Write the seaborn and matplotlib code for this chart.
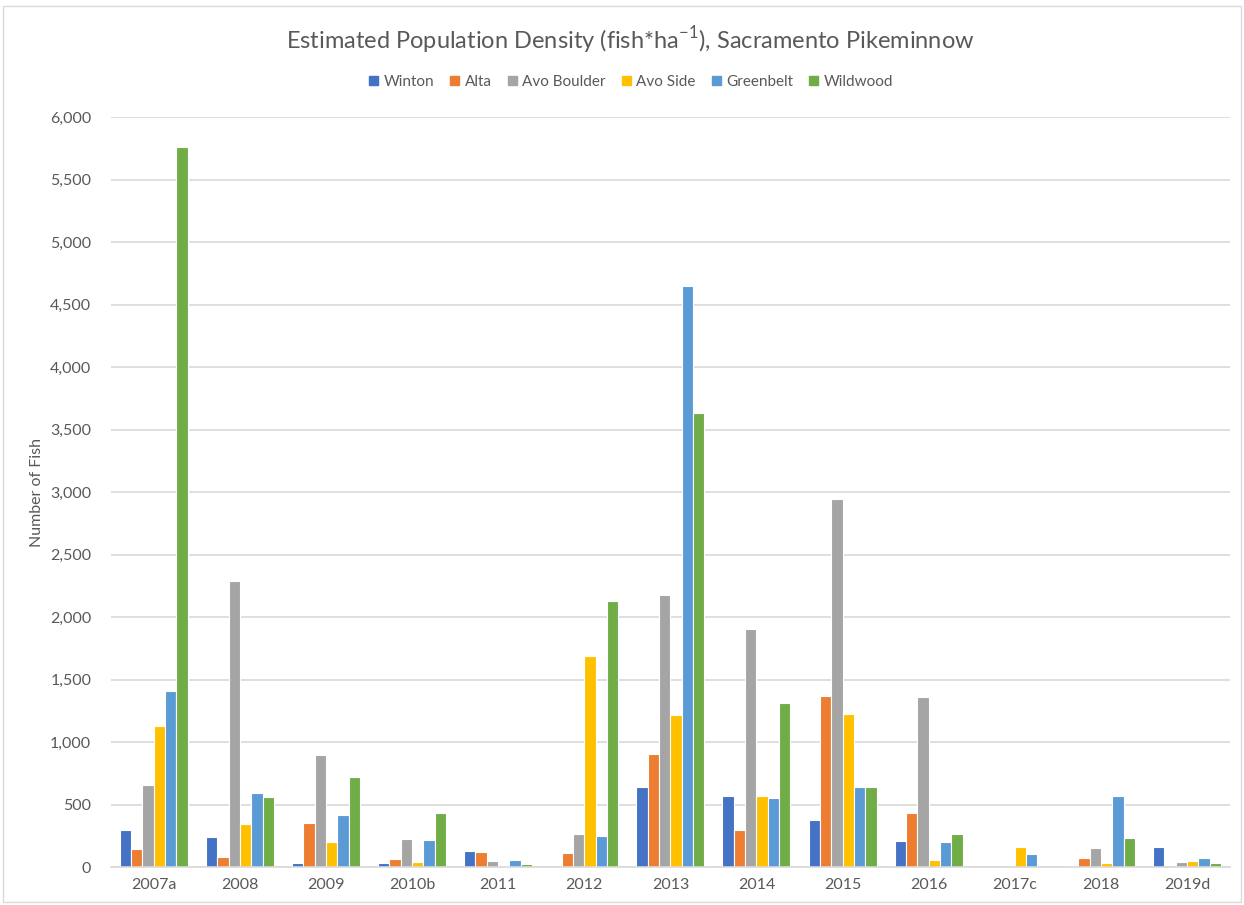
import numpy as np
import pandas as pd
import matplotlib
matplotlib.use("Agg")
import matplotlib.pyplot as plt
import seaborn as sns
from matplotlib.ticker import FuncFormatter, MultipleLocator
from matplotlib.patches import Rectangle

years = ["2007a", "2008", "2009", "2010b", "2011", "2012", "2013",
         "2014", "2015", "2016", "2017c", "2018", "2019d"]
sites = ["Winton", "Alta", "Avo Boulder", "Avo Side", "Greenbelt", "Wildwood"]

winton      = [300, 240, 32, 32, 131, 0, 640, 571, 373, 205, 0, 11, 157]
alta        = [143, 80, 355, 67, 123, 109, 904, 299, 1366, 429, 0, 75, 0]
avo_boulder = [655, 2286, 899, 227, 51, 261, 2174, 1902, 2941, 1360, 0, 149, 37]
avo_side    = [1128, 347, 198, 37, 11, 1688, 1213, 571, 1227, 59, 163, 29, 45]
greenbelt   = [1411, 590, 419, 213, 59, 248, 4645, 550, 640, 198, 101, 571, 75]
wildwood    = [5757, 558, 718, 429, 24, 2125, 3630, 1310, 640, 261, 0, 235, 29]

colors = ["#4472C4", "#ED7D31", "#A5A5A5", "#FFC000", "#5B9BD5", "#70AD47"]

series = [winton, alta, avo_boulder, avo_side, greenbelt, wildwood]
rows = []
for site, vals in zip(sites, series):
    for y, v in zip(years, vals):
        rows.append({"Year": y, "Site": site, "Fish": v})
df = pd.DataFrame(rows)

sns.set_theme(style="white")
plt.rcParams['font.family'] = ['Lato', 'DejaVu Sans']
plt.rcParams['mathtext.fontset'] = 'custom'
plt.rcParams['mathtext.rm'] = 'Lato'

fig = plt.figure(figsize=(12.44, 9.05), dpi=100)
ax = fig.add_axes([110.7 / 1244, 1 - 867 / 905, (1230 - 110.7) / 1244, (867 - 117) / 905])

sns.barplot(data=df, x="Year", y="Fish", hue="Site", order=years, hue_order=sites,
            palette=colors, width=0.79, saturation=1, edgecolor="white", linewidth=0.8,
            errorbar=None, ax=ax, legend=True)

ax.set_ylim(0, 6000)
ax.set_xlim(-0.5, len(years) - 0.5)
ax.yaxis.set_major_locator(MultipleLocator(500))
ax.yaxis.set_major_formatter(FuncFormatter(lambda v, p: f"{int(v):,}"))
ax.grid(axis="y", color="#D9D9D9", linewidth=1.2)
ax.set_axisbelow(True)
for s in ["top", "right", "left"]:
    ax.spines[s].set_visible(False)
ax.spines["bottom"].set_color("#D9D9D9")
ax.spines["bottom"].set_linewidth(1.2)
ax.tick_params(axis="both", length=0, labelsize=11.5, colors="#595959", pad=8)
ax.tick_params(axis="y", pad=14)
ax.set_xlabel("")
ax.set_ylabel("Number of Fish", fontsize=11.5, color="#595959", labelpad=4)

ax.get_legend().remove()
handles = [Rectangle((0, 0), 1, 1, color=c) for c in colors]
fig.legend(handles, sites, loc="center", bbox_to_anchor=(631 / 1244, 1 - 82 / 905), ncol=6,
           frameon=False, fontsize=11, handlelength=0.6, handleheight=0.6,
           handletextpad=0.35, columnspacing=1.05, labelcolor="#595959")

fig.text(630 / 1244, 1 - 40 / 905,
         "Estimated Population Density (fish*ha$^{\\mathregular{-1}}$), Sacramento Pikeminnow",
         ha="center", va="center", fontsize=17, color="#595959")

fig.patches.append(Rectangle((3 / 1244, 3 / 905), 1 - 6 / 1244, 1 - 9 / 905,
                             transform=fig.transFigure, fill=False,
                             edgecolor="#D9D9D9", linewidth=1))

fig.savefig("out.png", dpi=100)
